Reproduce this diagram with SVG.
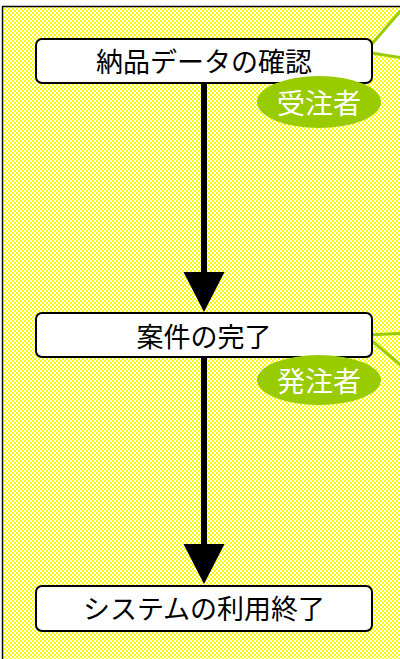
<svg xmlns="http://www.w3.org/2000/svg" width="400" height="659" viewBox="0 0 400 659">
  <defs>
    <pattern id="chk" width="4" height="4" patternUnits="userSpaceOnUse">
      <rect width="4" height="4" fill="#ffffff"/>
      <rect width="2" height="2" fill="#ffff00"/>
      <rect x="2" y="2" width="2" height="2" fill="#ffff00"/>
    </pattern>
    <style>
      .box { fill: #ffffff; stroke: #000000; stroke-width: 2; }
      .lbl { font-family: "Noto Sans CJK JP", "Noto Sans", sans-serif; font-size: 27px; fill: #000000; text-anchor: middle; }
      .role { fill: #99cc00; }
      .roletxt { font-family: "Noto Sans CJK JP", "Noto Sans", sans-serif; font-size: 28px; fill: #ffffff; text-anchor: middle; }
      .bubble { stroke: #99cc00; stroke-width: 3; stroke-linejoin: miter; }
      .conn { stroke: #000000; stroke-width: 6; fill: none; }
      .head { fill: #000000; }
    </style>
  </defs>
  <rect width="400" height="659" fill="#ffffff"/>
  <rect id="frame" x="2.5" y="6.5" width="500" height="700" fill="url(#chk)" stroke="#000000" stroke-width="1.5"/>

  <g id="connectors">
    <line class="conn" x1="204" y1="83" x2="204" y2="274"/>
    <polygon class="head" points="183.5,272 224.5,272 204,312"/>
    <line class="conn" x1="204" y1="357" x2="204" y2="546"/>
    <polygon class="head" points="183.5,544 224.5,544 204,584"/>
  </g>

  <g id="callout1">
    <polygon class="bubble" points="365,52 410,0 410,59" fill="#ffffff"/>
  </g>
  <g id="callout2">
    <polyline class="bubble" points="410,333 365,335 410,373" fill="none"/>
  </g>

  <g id="node1">
    <rect class="box" x="36" y="39" width="336" height="44" rx="6"/>
    <text class="lbl" x="204" y="72">納品データの確認</text>
  </g>
  <g id="role1">
    <ellipse class="role" cx="319" cy="102" rx="62" ry="26"/>
    <text class="roletxt" x="319" y="114">受注者</text>
  </g>

  <g id="node2">
    <rect class="box" x="36" y="313" width="336" height="44" rx="6"/>
    <text class="lbl" x="204" y="347">案件の完了</text>
  </g>
  <g id="role2">
    <ellipse class="role" cx="319" cy="380" rx="62" ry="25"/>
    <text class="roletxt" x="319" y="392">発注者</text>
  </g>

  <g id="node3">
    <rect class="box" x="36" y="586" width="336" height="45" rx="6"/>
    <text class="lbl" x="204" y="619">システムの利用終了</text>
  </g>
</svg>
